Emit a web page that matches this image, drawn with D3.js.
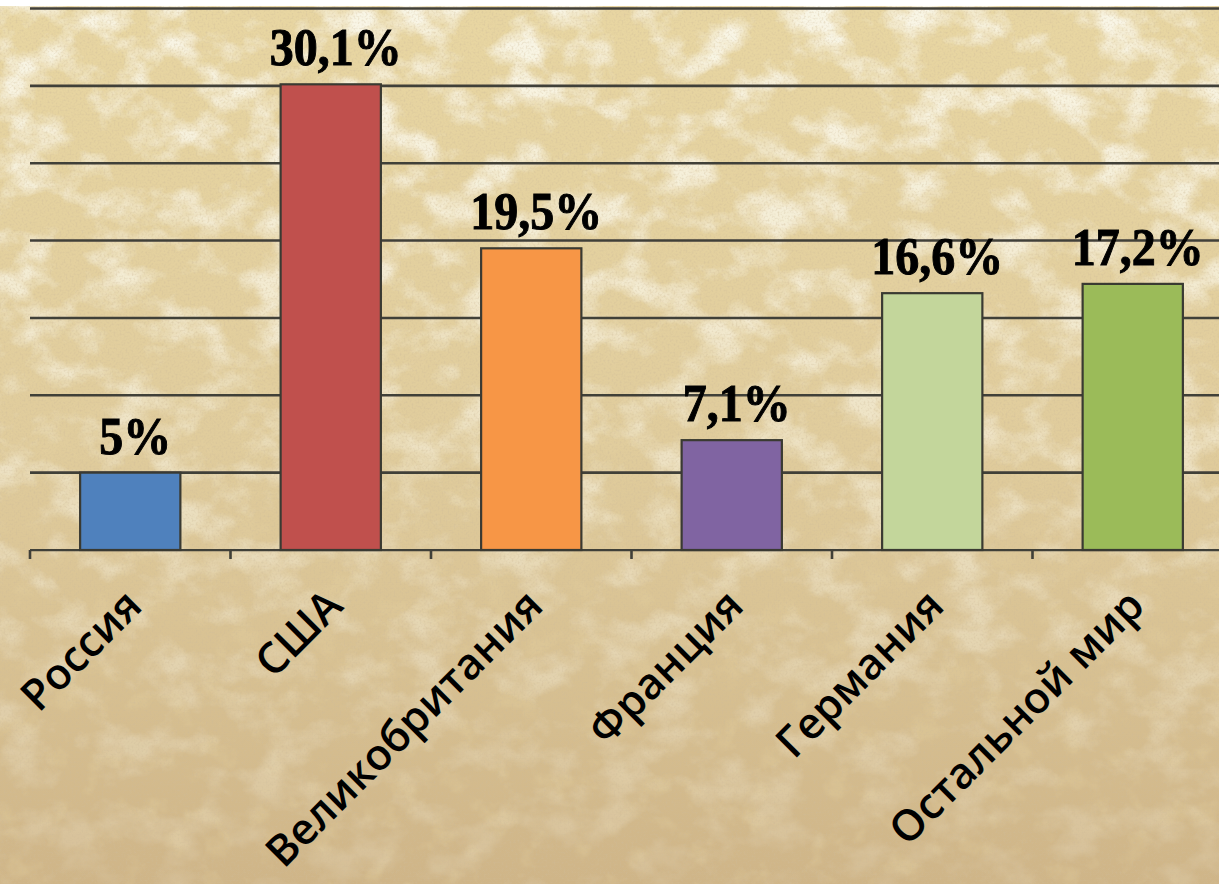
<!DOCTYPE html>
<html><head><meta charset="utf-8">
<script src="https://cdn.jsdelivr.net/npm/d3@7"></script>
<style>html,body{margin:0;padding:0;background:#fff;overflow:hidden}svg{display:block}</style>
</head><body>
<script>
const categories = ["Россия","США","Великобритания","Франция","Германия","Остальной мир"];
const values = [5, 30.1, 19.5, 7.1, 16.6, 17.2];
const valueLabels = ["5%","30,1%","19,5%","7,1%","16,6%","17,2%"];
const barColors = ["#4f81bd","#c0504d","#f79646","#8064a2","#c3d69b","#9bbb59"];
const gridTicks = [0,5,10,15,20,25,30,35];

const W = 1219, H = 884;
const svg = d3.select("body").append("svg").attr("width", W).attr("height", H);
const defs = svg.append("defs");

// parchment texture
const base = defs.append("linearGradient").attr("id","base").attr("x1",0).attr("y1",0).attr("x2",0).attr("y2",1);
base.append("stop").attr("offset",0).attr("stop-color","#e8d6a2");
base.append("stop").attr("offset",0.5).attr("stop-color","#e0cc9c");
base.append("stop").attr("offset",1).attr("stop-color","#cfb588");
const topMask = defs.append("linearGradient").attr("id","topfade").attr("x1",0).attr("y1",0).attr("x2",0).attr("y2",1);
topMask.append("stop").attr("offset",0).attr("stop-color","#fff");
topMask.append("stop").attr("offset",0.55).attr("stop-color","#fff").attr("stop-opacity",0.5);
topMask.append("stop").attr("offset",1).attr("stop-color","#fff").attr("stop-opacity",0.15);
const mask = defs.append("mask").attr("id","m");
mask.append("rect").attr("width",W).attr("height",H).attr("fill","url(#topfade)");

const f1 = defs.append("filter").attr("id","light").attr("x",0).attr("y",0).attr("width","100%").attr("height","100%");
f1.append("feTurbulence").attr("type","fractalNoise").attr("baseFrequency","0.02 0.026").attr("numOctaves",5).attr("seed",7).attr("result","n");
f1.append("feColorMatrix").attr("in","n").attr("type","matrix")
  .attr("values","0 0 0 0 0.95  0 0 0 0 0.92  0 0 0 0 0.80  3.4 0 0 0 -1.55");
const f2 = defs.append("filter").attr("id","dark").attr("x",0).attr("y",0).attr("width","100%").attr("height","100%");
f2.append("feTurbulence").attr("type","fractalNoise").attr("baseFrequency","0.035").attr("numOctaves",4).attr("seed",3).attr("result","n");
f2.append("feColorMatrix").attr("in","n").attr("type","matrix")
  .attr("values","0 0 0 0 0.78  0 0 0 0 0.64  0 0 0 0 0.36  0 4.0 0 0 -2.2");
const f3 = defs.append("filter").attr("id","grain").attr("x",0).attr("y",0).attr("width","100%").attr("height","100%");
f3.append("feTurbulence").attr("type","fractalNoise").attr("baseFrequency","0.5").attr("numOctaves",2).attr("seed",11).attr("result","n");
f3.append("feColorMatrix").attr("in","n").attr("type","matrix")
  .attr("values","0 0 0 0 0.62  0 0 0 0 0.50  0 0 0 0 0.32  0 0 2.4 0 -1.1");
const soft = defs.append("filter").attr("id","soft");
soft.append("feGaussianBlur").attr("stdDeviation",0.6);

const bg = svg.append("g");
const bgRect = () => bg.append("rect").attr("x",0).attr("y",6).attr("width",W).attr("height",H-6);
bgRect().attr("fill","url(#base)");
bgRect().attr("filter","url(#dark)").attr("opacity",0.3);
bgRect().attr("filter","url(#light)").attr("mask","url(#m)");
bgRect().attr("filter","url(#grain)").attr("opacity",0.45);

const x = d3.scaleBand().domain(categories).range([30, 1233]).paddingInner(0.5).paddingOuter(0.25);
const y = d3.scaleLinear().domain([0, 35]).range([550, 8.5]);

// gridlines
svg.append("g").attr("filter","url(#soft)").selectAll("line").data(gridTicks.filter(d=>d>0)).join("line")
  .attr("x1",30).attr("x2",W).attr("y1",d=>y(d)).attr("y2",d=>y(d))
  .attr("stroke","#403f38").attr("stroke-width",2.6);

// x axis
const axis = svg.append("g").attr("transform",`translate(0,${y(0)})`).attr("filter","url(#soft)");
axis.append("line").attr("x1",30).attr("x2",W).attr("stroke","#403f38").attr("stroke-width",2.6);
const step = x.step();
const bounds = d3.range(categories.length+1).map(i => 30 + i*step);
axis.selectAll(".tk").data(bounds).join("line").attr("class","tk")
  .attr("x1",d=>d).attr("x2",d=>d).attr("y1",0).attr("y2",9)
  .attr("stroke","#403f38").attr("stroke-width",2.6);

// bars
svg.append("g").selectAll("rect").data(values).join("rect")
  .attr("x",(d,i)=>x(categories[i])).attr("width",x.bandwidth())
  .attr("y",d=>y(d)).attr("height",d=>y(0)-y(d))
  .attr("fill",(d,i)=>barColors[i]).attr("stroke","#3a3a32").attr("stroke-width",2.2);

// value labels
svg.append("g").selectAll("text").data(values).join("text")
  .attr("transform",(d,i)=>`translate(${x(categories[i])+x.bandwidth()/2+5},${y(d)-19}) scale(1,1.12)`)
  .attr("text-anchor","middle").attr("font-family","'Liberation Serif','Times New Roman',serif")
  .attr("font-weight","bold").attr("font-size",48).attr("fill","#000")
  .attr("stroke","#000").attr("stroke-width",0.9)
  .text((d,i)=>valueLabels[i]);

// category labels
svg.append("g").selectAll("text").data(categories).join("text")
  .attr("transform",d=>`translate(${x(d)+x.bandwidth()/2+14},${608}) rotate(-45)`)
  .attr("text-anchor","end").attr("font-family","'Open Sans',sans-serif")
  .attr("font-weight","600").attr("font-size",43).attr("fill","#000")
  .text(d=>d);
</script>
</body></html>
